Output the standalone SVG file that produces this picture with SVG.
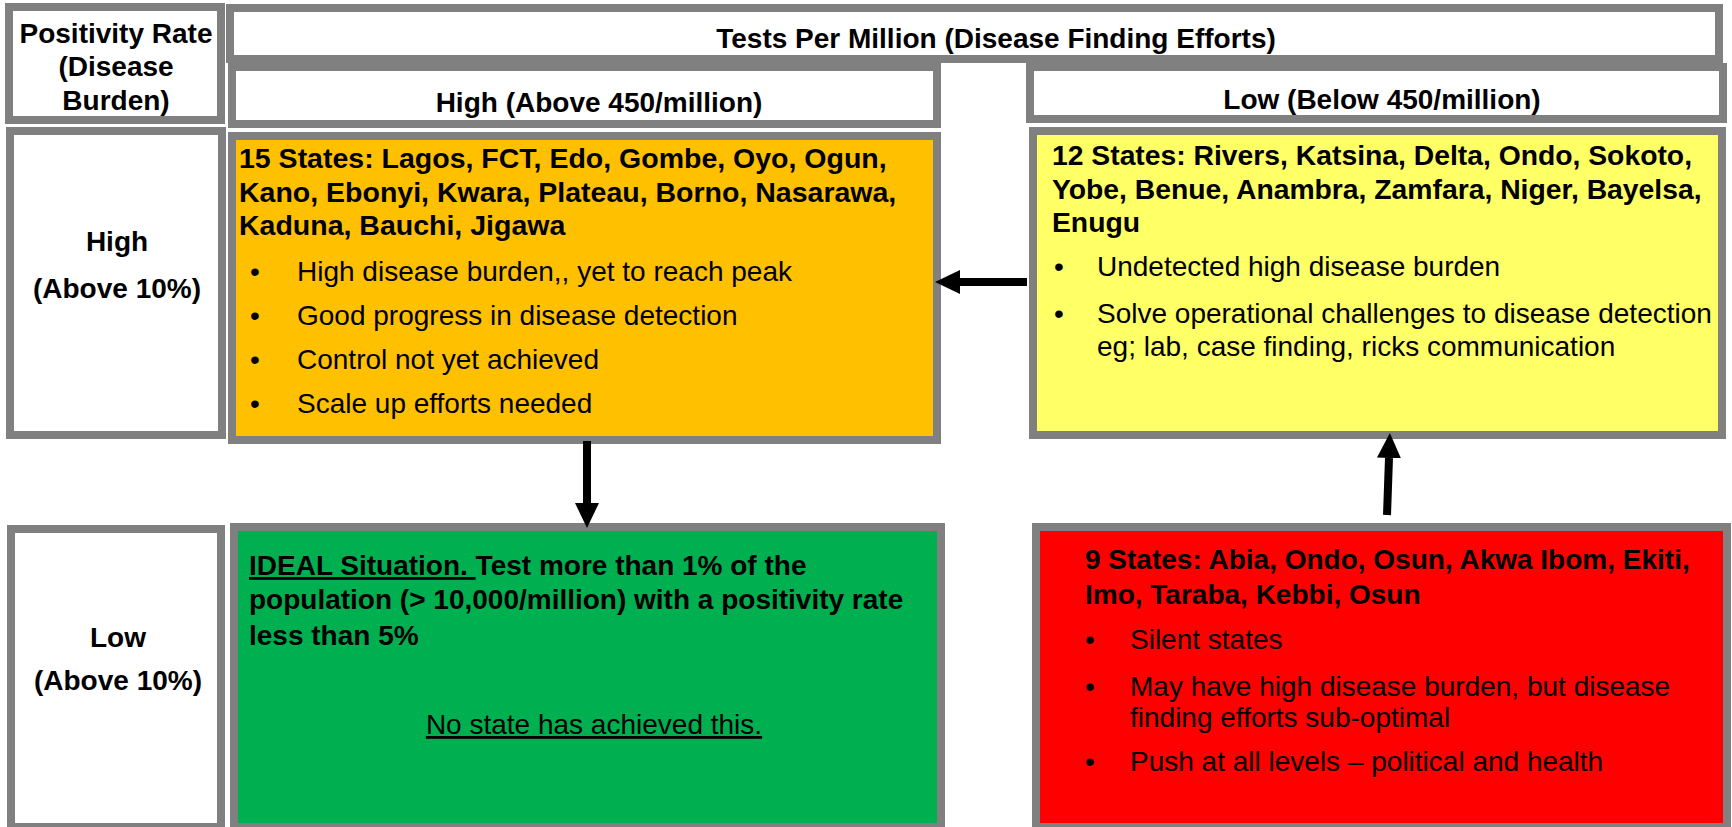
<svg xmlns="http://www.w3.org/2000/svg" width="1732" height="827" viewBox="0 0 1732 827">
  <style>
    .box { stroke: #808080; stroke-width: 8; }
    .white { fill: #ffffff; }
    .t { font-family: "Liberation Sans", Arial, sans-serif; font-size: 28px; fill: #000000; }
    .b { font-weight: bold; }
    .c { text-anchor: middle; }
    .u { text-decoration: underline; }
    .big { font-size: 28.5px; }
    .mid { font-size: 28.3px; }
    .conn { stroke: #000000; stroke-width: 8; fill: none; marker-end: url(#head); }
  </style>
  <defs>
    <marker id="head" markerUnits="userSpaceOnUse" viewBox="0 0 25 24" markerWidth="25" markerHeight="24" refX="0" refY="12" orient="auto">
      <path d="M0,0 L25,12 L0,24 Z" fill="#000000"/>
    </marker>
  </defs>
  <rect width="1732" height="827" fill="#ffffff"/>

  <!-- row header -->
  <g id="positivity-rate">
    <rect class="box white" x="9" y="7" width="212" height="113"/>
    <text class="t b c" x="116" y="43">Positivity Rate</text>
    <text class="t b c" x="116" y="76">(Disease</text>
    <text class="t b c" x="116" y="110">Burden)</text>
  </g>

  <!-- column headers -->
  <g id="tests-per-million">
    <rect class="box white" x="230" y="8" width="1489" height="51"/>
    <text class="t b c" x="996" y="48">Tests Per Million (Disease Finding Efforts)</text>
  </g>
  <g id="high-tests">
    <rect class="box white" x="232" y="67" width="705" height="57"/>
    <text class="t b c" x="599" y="112">High (Above 450/million)</text>
  </g>
  <g id="low-tests">
    <rect class="box white" x="1030" y="67" width="693" height="52"/>
    <text class="t b c" x="1382" y="109">Low (Below 450/million)</text>
  </g>

  <!-- row labels -->
  <g id="high-positivity">
    <rect class="box white" x="10" y="131" width="212" height="304"/>
    <text class="t b c" x="117" y="251">High</text>
    <text class="t b c" x="117" y="298">(Above 10%)</text>
  </g>
  <g id="low-positivity">
    <rect class="box white" x="11" y="529" width="210" height="298"/>
    <text class="t b c" x="118" y="647">Low</text>
    <text class="t b c" x="118" y="690">(Above 10%)</text>
  </g>

  <!-- quadrant: high tests, high positivity -->
  <g id="quadrant-high-high">
    <rect class="box" x="232" y="136" width="705" height="304" fill="#ffc000"/>
    <text class="t b big" x="239" y="168">15 States: Lagos, FCT, Edo, Gombe, Oyo, Ogun,</text>
    <text class="t b big" x="239" y="202">Kano, Ebonyi, Kwara, Plateau, Borno, Nasarawa,</text>
    <text class="t b big" x="239" y="235">Kaduna, Bauchi, Jigawa</text>
    <text class="t" x="250" y="281">•</text>
    <text class="t" x="297" y="281">High disease burden,, yet to reach peak</text>
    <text class="t" x="250" y="325">•</text>
    <text class="t" x="297" y="325">Good progress in disease detection</text>
    <text class="t" x="250" y="369">•</text>
    <text class="t" x="297" y="369">Control not yet achieved</text>
    <text class="t" x="250" y="413">•</text>
    <text class="t" x="297" y="413">Scale up efforts needed</text>
  </g>

  <!-- quadrant: low tests, high positivity -->
  <g id="quadrant-low-high">
    <rect class="box" x="1033" y="131" width="689" height="304" fill="#ffff66"/>
    <text class="t b mid" x="1052" y="165">12 States: Rivers, Katsina, Delta, Ondo, Sokoto,</text>
    <text class="t b mid" x="1052" y="199">Yobe, Benue, Anambra, Zamfara, Niger, Bayelsa,</text>
    <text class="t b mid" x="1052" y="232">Enugu</text>
    <text class="t" x="1054" y="276">•</text>
    <text class="t" x="1097" y="276">Undetected high disease burden</text>
    <text class="t" x="1054" y="323">•</text>
    <text class="t" x="1097" y="323">Solve operational challenges to disease detection</text>
    <text class="t" x="1097" y="356">eg; lab, case finding, ricks communication</text>
  </g>

  <!-- quadrant: high tests, low positivity -->
  <g id="quadrant-high-low">
    <rect class="box" x="234" y="527" width="707" height="300" fill="#00b050"/>
    <text class="t b" x="249" y="575"><tspan class="u">IDEAL Situation. </tspan>Test more than 1% of the</text>
    <text class="t b" x="249" y="609">population (&gt; 10,000/million) with a positivity rate</text>
    <text class="t b" x="249" y="645">less than 5%</text>
    <text class="t c u" x="594" y="734">No state has achieved this.</text>
  </g>

  <!-- quadrant: low tests, low positivity -->
  <g id="quadrant-low-low">
    <rect class="box" x="1036" y="527" width="691" height="300" fill="#ff0000"/>
    <text class="t b" x="1085" y="569">9 States: Abia, Ondo, Osun, Akwa Ibom, Ekiti,</text>
    <text class="t b" x="1085" y="604">Imo, Taraba, Kebbi, Osun</text>
    <text class="t" x="1085" y="649">•</text>
    <text class="t" x="1130" y="649">Silent states</text>
    <text class="t" x="1085" y="696">•</text>
    <text class="t" x="1130" y="696">May have high disease burden, but disease</text>
    <text class="t" x="1130" y="727">finding efforts sub-optimal</text>
    <text class="t" x="1085" y="771">•</text>
    <text class="t" x="1130" y="771">Push at all levels – political and health</text>
  </g>

  <!-- connectors -->
  <g id="connectors">
    <line class="conn" x1="1027" y1="282" x2="960" y2="282"/>
    <line class="conn" x1="587" y1="441" x2="587" y2="503"/>
    <line class="conn" x1="1387" y1="515" x2="1389" y2="458"/>
  </g>
</svg>
